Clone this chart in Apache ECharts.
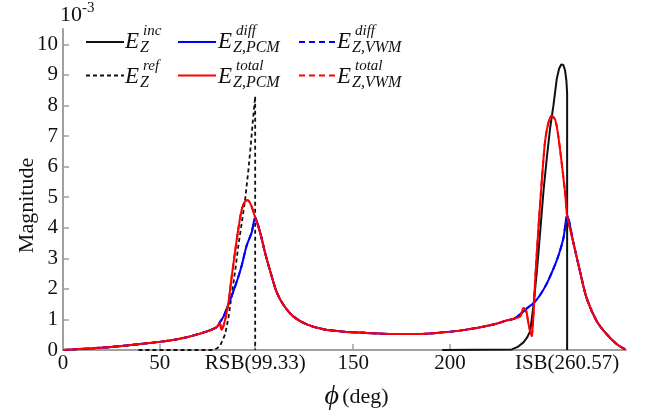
<!DOCTYPE html>
<html>
<head>
<meta charset="utf-8">
<script src="https://cdn.jsdelivr.net/npm/echarts@6/dist/echarts.min.js"></script>
<style>
html, body { margin: 0; background: #fff; }
#chart { width: 657px; height: 416px; }
</style>
</head>
<body>
<div id="chart"></div>
<script>
// x axis ticks (deg)
const xTicks = [0, 50, 99.33, 150, 200, 260.57];
const xTickLabels = ['0', '50', 'RSB(99.33)', '150', '200', 'ISB(260.57)'];
const yTicks = [0, 1, 2, 3, 4, 5, 6, 7, 8, 9, 10];

// E_Z^inc
const incData = [[196, 0], [232, 0.02], [235, 0.1], [238, 0.25], [240, 0.42], [241.5, 0.62], [243.2, 1.48],
	[244.9, 2.55], [246.6, 3.84], [248.4, 5.23], [250.1, 6.3], [251.8, 7.27], [253.5, 8.0], [255.2, 8.86],
	[256.4, 9.2], [257.5, 9.34], [258.6, 9.32], [259.5, 9.15], [260.2, 8.8], [260.57, 8.4], [260.57, 0]];
// E_Z^ref
const refData = [[39, 0], [77.7, 0], [79.5, 0.05], [81.2, 0.14], [83.8, 0.51], [85.5, 1.05], [87.2, 1.8],
	[88.9, 2.55], [90.6, 3.4], [92.4, 4.16], [94.1, 4.9], [95.8, 5.87], [97.1, 6.73], [98.1, 7.48],
	[98.9, 8.0], [99.33, 8.3], [99.33, 0]];

// parts shared by the total and diff fields
const leftTail = [[0, 0], [8, 0.03], [16, 0.06], [25, 0.1], [33, 0.15], [42, 0.21], [50, 0.27], [57, 0.33],
	[64, 0.42], [70, 0.52], [74, 0.6], [77, 0.67], [79.5, 0.75]];
const middle = [[101.9, 3.84], [104.4, 3.19], [107, 2.6], [110.4, 1.9], [113.9, 1.48], [119, 1.1], [126, 0.84],
	[134.6, 0.68], [145, 0.6], [157, 0.56], [170, 0.52], [182, 0.52], [193, 0.56], [207, 0.65], [217, 0.76],
	[224, 0.86], [229, 0.96], [233, 1.02]];
const rightTail = [[263.8, 3.51], [267.3, 2.55], [270.7, 1.69], [275.9, 0.94], [281.1, 0.51], [286.3, 0.19],
	[290.6, 0.02]];

// total field near the two peaks
const totalRsb = [[81, 0.88], [82, 0.66], [83, 0.8], [84, 1.05], [85.5, 1.55], [87.2, 2.4], [88.9, 3.2],
	[90.6, 3.95], [92.4, 4.6], [94.1, 4.87], [95.5, 4.9], [97.1, 4.75], [98.4, 4.52], [99.33, 4.33]];
const totalIsb = [[236.3, 1.1], [238, 1.37], [239.4, 1.28], [240.6, 0.86], [242.2, 0.45], [243.2, 1.2],
	[244.1, 2.34], [245.8, 4.05], [247.5, 5.55], [249.2, 6.84], [250.9, 7.43], [252.5, 7.66], [254.4, 7.53],
	[256.1, 6.95], [257.8, 6.09], [259.6, 5.1], [260.57, 4.4]];
// diff field near the two peaks
const diffRsb = [[81, 0.9], [83, 1.1], [84.6, 1.35], [86.5, 1.65], [88, 1.91], [90.6, 2.39], [92.4, 2.77],
	[94.9, 3.41], [97.5, 3.84], [99.33, 4.33]];
const diffIsb = [[236, 1.15], [238, 1.26], [240.5, 1.4], [243.2, 1.53], [246.6, 1.8], [250.1, 2.18],
	[253.5, 2.66], [256.1, 3.09], [258.7, 3.67], [260.57, 4.4]];

const totalPcm = [].concat(leftTail, totalRsb, middle, totalIsb, rightTail);
const diffPcm = [].concat(leftTail, diffRsb, middle, diffIsb, rightTail);
// VWM curves lie on top of the PCM ones
const totalVwm = totalPcm;
const diffVwm = diffPcm;

const legendItems = [
	{ name: 'inc', sup: 'inc', sub: 'Z' },
	{ name: 'ref', sup: 'ref', sub: 'Z' },
	{ name: 'diffPcm', sup: 'diff', sub: 'Z,PCM' },
	{ name: 'totalPcm', sup: 'total', sub: 'Z,PCM' },
	{ name: 'diffVwm', sup: 'diff', sub: 'Z,VWM' },
	{ name: 'totalVwm', sup: 'total', sub: 'Z,VWM' }
];

const serif = '"Liberation Serif", "Times New Roman", serif';
const colX = [125, 218, 337];
const rowY = [37, 72];

const graphics = [
	{ type: 'text', left: 60, top: 4, style: { text: '10', font: '22px ' + serif, fill: '#111' } },
	{ type: 'text', left: 82, top: 1, style: { text: '-3', font: '15px ' + serif, fill: '#111' } }
];
legendItems.forEach((it, i) => {
	const x = colX[Math.floor(i / 2)];
	const y = rowY[i % 2];
	graphics.push(
		{ type: 'text', x: x, y: y + 5, style: { text: 'E', font: 'italic 23px ' + serif, fill: '#111', verticalAlign: 'middle' } },
		{ type: 'text', x: x + 18, y: y - 6, style: { text: it.sup, font: 'italic 15px ' + serif, fill: '#111', verticalAlign: 'middle' } },
		{ type: 'text', x: x + 15, y: y + 11, style: { text: it.sub, font: 'italic 16px ' + serif, fill: '#111', verticalAlign: 'middle' } }
	);
});

function legendCol(names, left) {
	return {
		data: names, left: left, top: rowY[0] - 7, orient: 'vertical',
		itemWidth: 38, itemHeight: 14, itemGap: rowY[1] - rowY[0] - 14,
		itemStyle: { opacity: 0 },
		formatter: () => '', selectedMode: false
	};
}

function line(name, data, color, type, width, smooth) {
	return {
		name: name, type: 'line', data: data, symbol: 'none', smooth: smooth,
		lineStyle: { color: color, type: type, width: width }, itemStyle: { color: color }
	};
}

const chart = echarts.init(document.getElementById('chart'));
chart.setOption({
	animation: false,
	grid: { left: 63, right: 31, top: 29, bottom: 60 },
	legend: [
		legendCol(['inc', 'ref'], 80),
		legendCol(['diffPcm', 'totalPcm'], 172),
		legendCol(['diffVwm', 'totalVwm'], 293)
	],
	graphic: graphics,
	xAxis: {
		type: 'value', min: 0, max: 291,
		axisLine: { lineStyle: { color: '#a0a0a0', width: 2 } },
		axisTick: { inside: true, length: 6, customValues: xTicks, lineStyle: { color: '#a0a0a0', width: 1.5 } },
		axisLabel: {
			customValues: xTicks, margin: 3, fontFamily: serif, fontSize: 21, color: '#111',
			formatter: v => xTickLabels[xTicks.indexOf(v)]
		},
		splitLine: { show: false },
		name: '{p|ϕ} {d|(deg)}', nameLocation: 'middle', nameGap: 33,
		nameTextStyle: {
			padding: [0, 0, 0, 24],
			rich: {
				p: { fontFamily: serif, fontStyle: 'italic', fontSize: 28, color: '#111' },
				d: { fontFamily: serif, fontSize: 22, color: '#111' }
			}
		}
	},
	yAxis: {
		type: 'value', min: 0, max: 10.5,
		axisLine: { show: true, lineStyle: { color: '#a0a0a0', width: 2 } },
		axisTick: { show: true, inside: true, length: 6, customValues: yTicks, lineStyle: { color: '#a0a0a0', width: 1.5 } },
		axisLabel: { customValues: yTicks, margin: 5, fontFamily: serif, fontSize: 21, color: '#111' },
		splitLine: { show: false },
		name: 'Magnitude', nameLocation: 'middle', nameGap: 25, nameRotate: 90, nameMoveOverlap: false,
		nameTextStyle: { fontFamily: serif, fontSize: 22, color: '#111', padding: [0, 32, 0, 0] }
	},
	series: [
		line('diffVwm', diffVwm, '#0000ff', [6, 4], 2, 0.3),
		line('totalVwm', totalVwm, '#ff0000', [6, 4], 2, 0.3),
		line('inc', incData, '#111', 'solid', 2, false),
		line('ref', refData, '#111', [4, 3], 1.8, false),
		line('diffPcm', diffPcm, '#0000ff', 'solid', 2, 0.3),
		line('totalPcm', totalPcm, '#ff0000', 'solid', 2, 0.3)
	]
});
</script>
</body>
</html>
